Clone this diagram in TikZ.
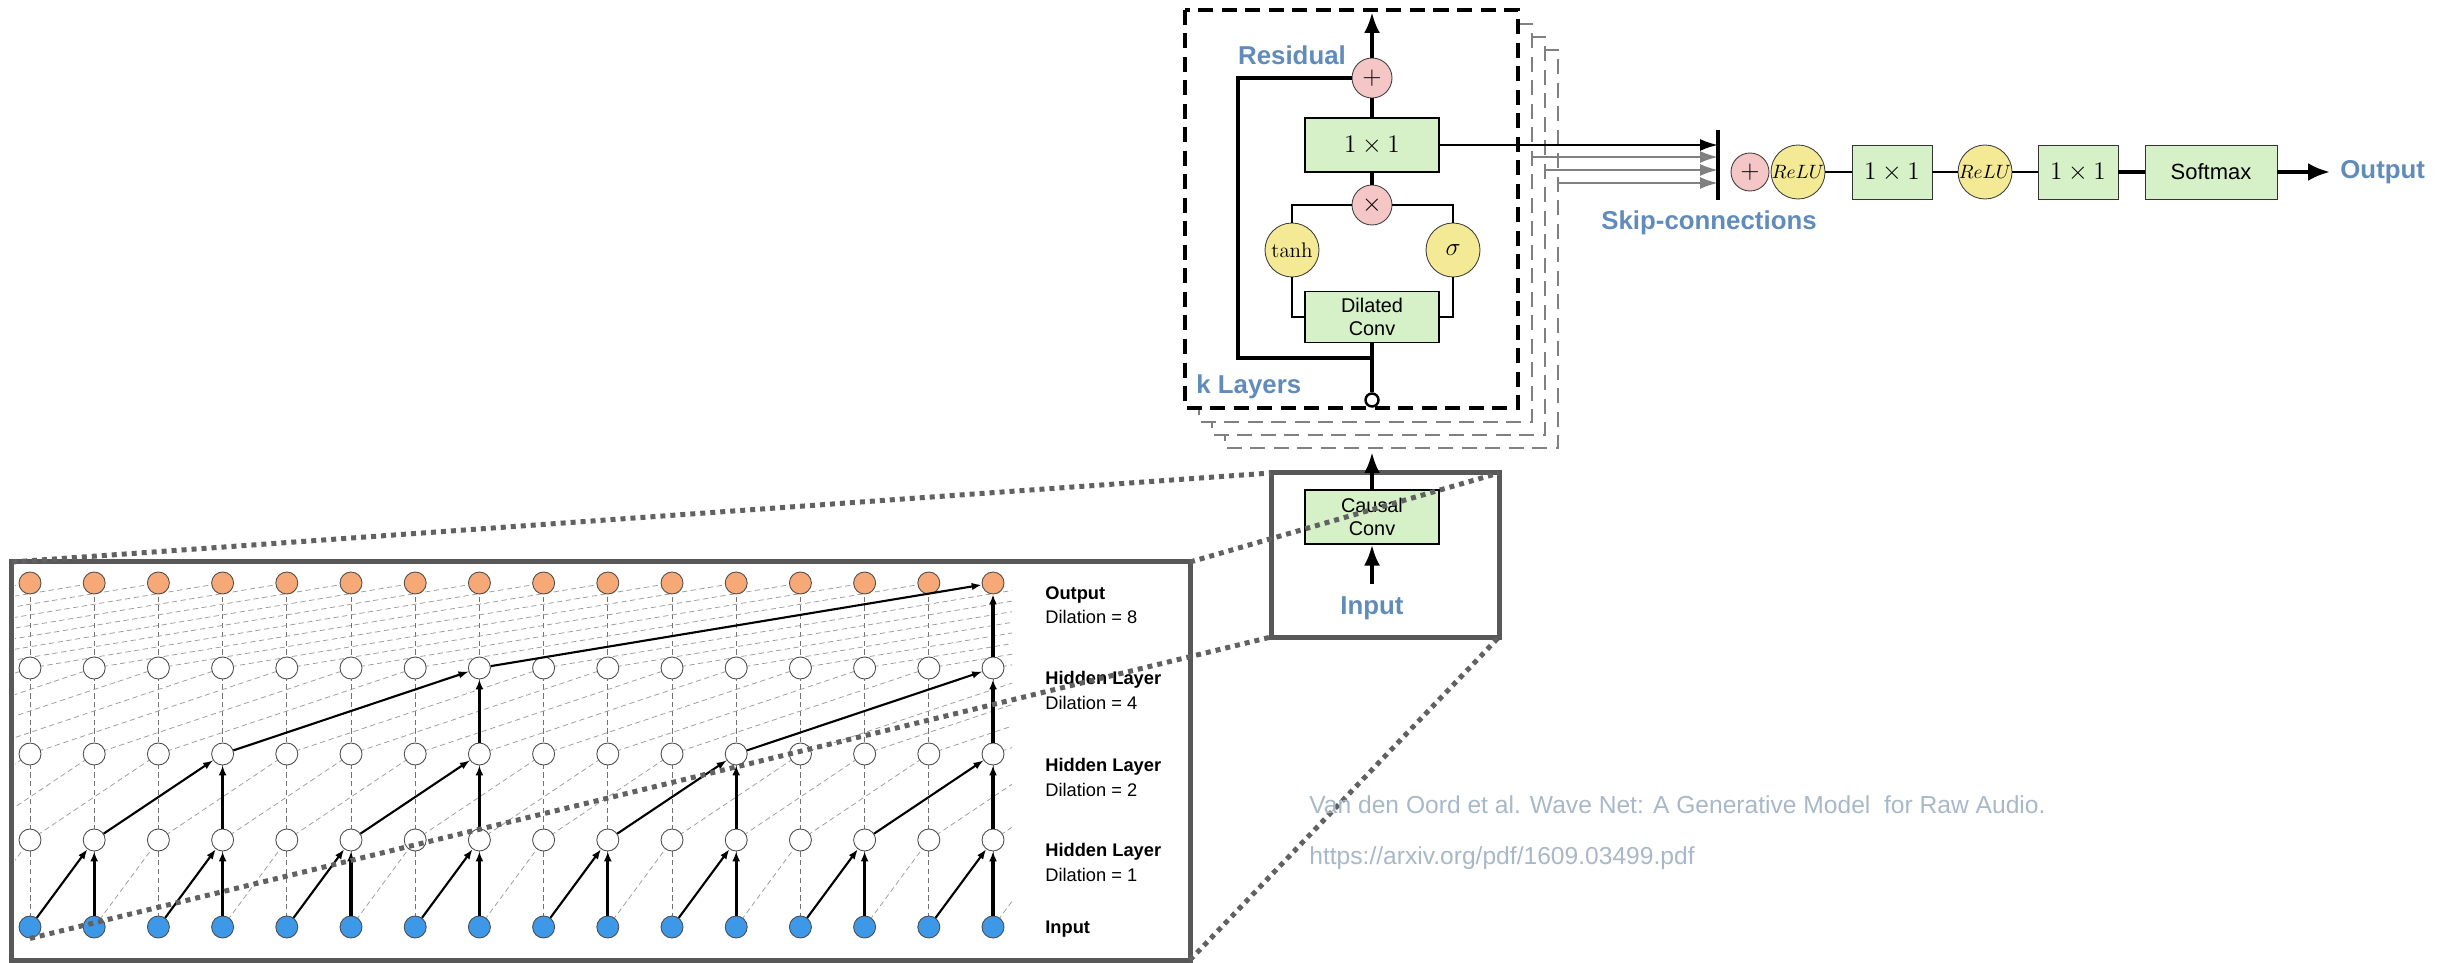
\documentclass[tikz,border=0pt]{standalone}
\usepackage[no-math]{fontspec}
\setmainfont{Liberation Sans}
\usetikzlibrary{arrows.meta, positioning, calc}

\definecolor{tagblue}{RGB}{96,139,186}
\definecolor{oppink}{RGB}{244,198,198}
\definecolor{actyellow}{RGB}{244,234,150}
\definecolor{convgreen}{RGB}{214,240,200}
\definecolor{outorange}{RGB}{246,168,118}
\definecolor{inblue}{RGB}{62,152,232}
\definecolor{framegray}{RGB}{88,88,88}
\definecolor{citegray}{RGB}{168,184,200}

\begin{document}
\begin{tikzpicture}[x=0.2mm, y=-0.2mm,
    every node/.style={inner sep=0pt},
    opnode/.style={circle, draw=black!75, fill=oppink, line width=0.5pt, minimum size=8mm, font=\fontsize{14}{16}\selectfont},
    actnode/.style={circle, draw=black!75, fill=actyellow, line width=0.5pt, minimum size=10.8mm, font=\fontsize{12}{14}\selectfont},
    convbox/.style={draw=black, fill=convgreen, line width=0.6pt, minimum width=26.8mm, minimum height=10.8mm, align=center, font=\fontsize{11.3}{13}\selectfont},
    fcbox/.style={draw=black!80, fill=convgreen, line width=0.5pt, minimum width=16mm, minimum height=10.8mm, font=\fontsize{14}{16}\selectfont},
    tapnode/.style={circle, draw=black, fill=white, line width=1.4pt, minimum size=2.6mm},
    framebox/.style={draw=framegray, line width=1mm, outer sep=0pt},
    bluetag/.style={text=tagblue, font=\bfseries\fontsize{14.7}{17}\selectfont},
    rowhead/.style={anchor=west, font=\bfseries\fontsize{10.4}{12}\selectfont},
    rowsub/.style={anchor=west, font=\fontsize{10.4}{12}\selectfont},
    cite/.style={anchor=west, text=citegray, font=\fontsize{14}{16}\selectfont},
    blackdash/.style={draw=black, line width=2pt, dash pattern=on 3mm off 1.7mm},
    graydash/.style={draw=black!50, line width=1.6pt, dash pattern=on 3mm off 1.7mm},
    wire/.style={line width=0.8mm},
    thinwire/.style={line width=0.5mm},
    bigtip/.style={-{Latex[length=4.2mm,width=3.2mm]}},
    skiparr/.style={line width=0.4mm, -{Latex[length=3.6mm,width=2.4mm]}},
    outnode/.style={circle, draw=black!70, fill=outorange, line width=0.5pt, minimum size=4.4mm},
    hidnode/.style={circle, draw=black!70, fill=white, line width=0.5pt, minimum size=4.4mm},
    innode/.style={circle, draw=black!70, fill=inblue, line width=0.5pt, minimum size=4.4mm},
    guide/.style={draw=black!38, line width=0.45pt, dash pattern=on 3pt off 2pt},
    vguide/.style={draw=black!55, line width=0.45pt, dash pattern=on 3pt off 2pt},
    darr/.style={line width=1.2pt, -{Latex[length=2mm,width=1.5mm]}},
    varr/.style={line width=1.8pt, -{Latex[length=2mm,width=1.6mm]}},
    zoomline/.style={draw=black!62, line width=1mm, dash pattern=on 1mm off 1mm}
]
    \useasboundingbox (0,0) rectangle (2456,963);

    % ---- 堆叠的 k 层 ----
    \foreach \o in {40,27,14}
        \draw[graydash, fill=white] ({1185+\o},{10+\o}) rectangle ({1518+\o},{408+\o});
    \draw[blackdash, fill=white] (1185,10) rectangle (1518,408);

    % ---- 残差块 ----
    \node[opnode] (add) at (1372,78) {$+$};
    \node[convbox, font=\fontsize{14}{16}\selectfont] (fc) at (1372,145) {$1\times 1$};
    \node[opnode] (mul) at (1372,205) {$\times$};
    \node[actnode] (tanh) at (1292,250) {$\tanh$};
    \node[actnode, font=\fontsize{15}{17}\selectfont] (sig) at (1453,250) {$\sigma$};
    \node[convbox, minimum height=10.2mm] (dconv) at (1372,317) {Dilated\\Conv};
    \node[tapnode] (tap) at (1372,400) {};
    \coordinate (top) at (1372,12);
    \coordinate (jn) at (1372,358);
    \coordinate (resl) at (1238,78);
    \draw[wire, bigtip] (add) -- (top);
    \draw[wire] (add) -- (fc);
    \draw[wire] (fc) -- (mul);
    \draw[thinwire] (mul) -| (tanh);
    \draw[thinwire] (mul) -| (sig);
    \draw[thinwire] (tanh) |- (dconv);
    \draw[thinwire] (sig) |- (dconv);
    \draw[wire] (tap) -- (dconv);
    \draw[wire] (jn) -| (resl) -- (add);
    \node[bluetag] (restag) at (1292,55) {Residual};
    \node[bluetag, anchor=west] (ktag) at (1196,387) {k Layers};

    % ---- skip 连接 ----
    \coordinate (bartop) at (1718,130);
    \coordinate (barbot) at (1718,200);
    \foreach \o/\yy [count=\n] in {14/157, 27/170, 40/183} {
        \coordinate (sk\n) at ({1518+\o},\yy);
        \draw[skiparr, draw=black!50, fill=black!50] (sk\n) -- (sk\n -| bartop);
    }
    \draw[skiparr] (fc) -- (fc -| bartop);
    \draw[line width=0.9mm] (bartop) -- (barbot);
    \node[bluetag, anchor=west] (skiptag) at (1601,223) {Skip-connections};

    % ---- 输出部分 ----
    \node[opnode, minimum size=7.6mm] (sum) at (1750,172) {$+$};
    \node[actnode, font=\fontsize{10.5}{12}\selectfont] (relua) at (1798,172) {$ReLU$};
    \node[fcbox] (fca) at (1892,172) {$1\times 1$};
    \node[actnode, font=\fontsize{10.5}{12}\selectfont] (relub) at (1985,172) {$ReLU$};
    \node[fcbox] (fcb) at (2078,172) {$1\times 1$};
    \node[fcbox, minimum width=26.4mm, font=\fontsize{12.5}{14}\selectfont] (smax) at (2211,172) {Softmax};
    \node[bluetag, anchor=west] (outtag) at (2340,172) {Output};
    \draw[thinwire] (relua) -- (fca);
    \draw[thinwire] (fca) -- (relub);
    \draw[thinwire] (relub) -- (fcb);
    \draw[wire] (fcb) -- (smax);
    \draw[wire, -{Latex[length=4.4mm,width=3.6mm]}] (smax) -- ([xshift=-2mm]outtag.west);

    % ---- 因果卷积 ----
    \node[framebox, minimum width=45.6mm, minimum height=32.8mm] (cframe) at (1385,555) {};
    \node[convbox] (cconv) at (1372,517) {Causal\\Conv};
    \node[bluetag, outer sep=2.4mm] (intag) at (1372,608) {Input};
    \coordinate (stack) at (1372,452);
    \draw[wire, bigtip] (cconv) -- (stack);
    \draw[wire, bigtip] (intag) -- (cconv);

    % ---- 膨胀卷积网络 ----
    \node[framebox, minimum width=235.6mm, minimum height=79.6mm] (netframe) at (601,761) {};
    \begin{scope}
        \clip (15,565) rectangle (1012,957);
        \foreach \i in {0,...,15}
            \draw[vguide] ({30+64.2*\i},927) -- ({30+64.2*\i},583);
        \foreach \i in {-1,...,15}
            \draw[guide] ({30+64.2*\i},927) -- ({30+64.2*(\i+1)},840);
        \foreach \i in {-2,...,15}
            \draw[guide] ({30+64.2*\i},840) -- ({30+64.2*(\i+2)},754);
        \foreach \i in {-4,...,15}
            \draw[guide] ({30+64.2*\i},754) -- ({30+64.2*(\i+4)},668);
        \foreach \i in {-8,...,15}
            \draw[guide] ({30+64.2*\i},668) -- ({30+64.2*(\i+8)},583);
    \end{scope}
    \foreach \i in {0,...,15} {
        \node[innode]  (in\i) at ({30+64.2*\i},927) {};
        \node[hidnode] (ha\i) at ({30+64.2*\i},840) {};
        \node[hidnode] (hb\i) at ({30+64.2*\i},754) {};
        \node[hidnode] (hc\i) at ({30+64.2*\i},668) {};
        \node[outnode] (out\i) at ({30+64.2*\i},583) {};
    }
    \foreach \k/\j in {1/0,3/2,5/4,7/6,9/8,11/10,13/12,15/14} {
        \draw[darr] (in\j) -- (ha\k);
        \draw[varr] (in\k) -- (ha\k);
    }
    \foreach \k/\j in {3/1,7/5,11/9,15/13} {
        \draw[darr] (ha\j) -- (hb\k);
        \draw[varr] (ha\k) -- (hb\k);
    }
    \foreach \k/\j in {7/3,15/11} {
        \draw[darr] (hb\j) -- (hc\k);
        \draw[varr] (hb\k) -- (hc\k);
    }
    \draw[darr] (hc7) -- (out15);
    \draw[varr] (hc15) -- (out15);
    \node[rowhead] (lout) at (1045,595) {Output};
    \node[rowsub]  (dout) at (1045,617) {Dilation = 8};
    \node[rowhead] (lhc) at (1045,680) {Hidden Layer};
    \node[rowsub]  (dhc) at (1045,703) {Dilation = 4};
    \node[rowhead] (lhb) at (1045,767) {Hidden Layer};
    \node[rowsub]  (dhb) at (1045,790) {Dilation = 2};
    \node[rowhead] (lha) at (1045,852) {Hidden Layer};
    \node[rowsub]  (dha) at (1045,875) {Dilation = 1};
    \node[rowhead] (lin) at (1045,929) {Input};

    % ---- 放大虚线 ----
    \draw[zoomline] (netframe.north west) -- (cframe.north west);
    \draw[zoomline] (netframe.north east) -- (cframe.north east);
    \draw[zoomline] (in0.south) -- (cframe.south west);
    \draw[zoomline] (netframe.south east) -- (cframe.south east);

    % ---- 引用 ----
    \node[cite] (ref1) at (1309,805) {Van den Oord et al. Wave Net: A Generative Model~ for Raw Audio.};
    \node[cite] (ref2) at (1309,858) {https://arxiv.org/pdf/1609.03499.pdf};
\end{tikzpicture}
\end{document}
